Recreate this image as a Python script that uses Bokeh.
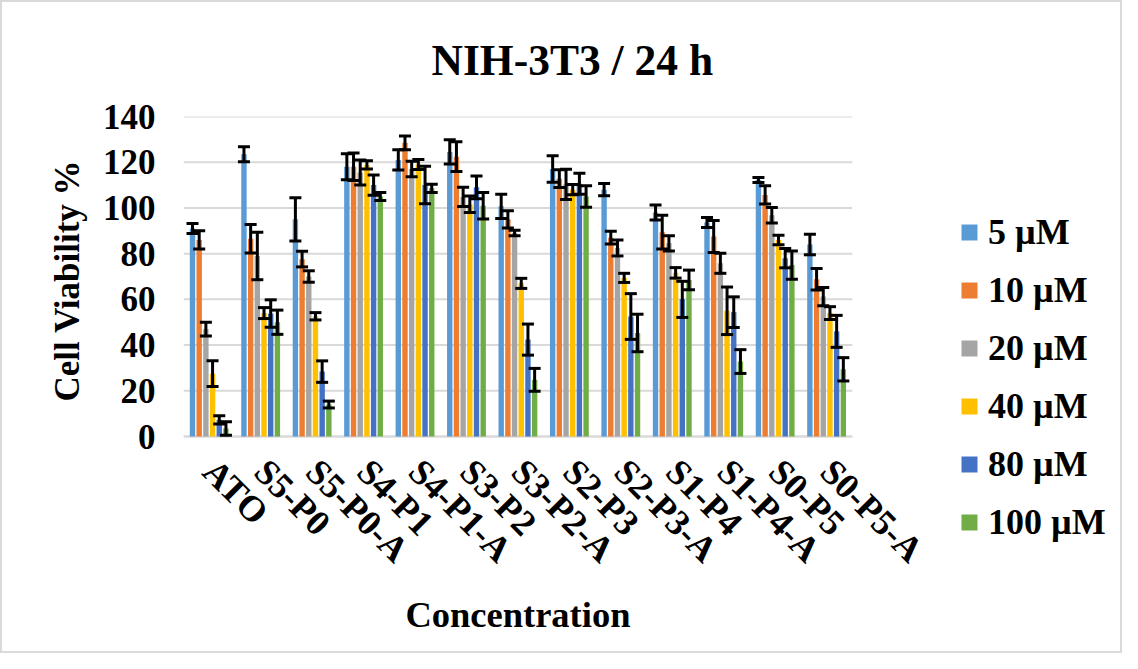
import math
from bokeh.plotting import figure
from bokeh.models import (Whisker, ColumnDataSource, Legend, LegendItem, TeeHead,
                          Range1d, FixedTicker, Title)
from bokeh.core.properties import value
from bokeh.transform import dodge
from bokeh.embed import file_html
from bokeh.resources import INLINE

categories = ["ATO", "S5-P0", "S5-P0-A", "S4-P1", "S4-P1-A", "S3-P2", "S3-P2-A",
              "S2-P3", "S2-P3-A", "S1-P4", "S1-P4-A", "S0-P5", "S0-P5-A"]
series = ["5 µM", "10 µM", "20 µM", "40 µM", "80 µM", "100 µM"]
colors = ["#5B9BD5", "#ED7D31", "#A5A5A5", "#FFC000", "#4472C4", "#70AD47"]
y_ticks = [0, 20, 40, 60, 80, 100, 120, 140]

v5 = [91, 123.5, 95, 118, 121, 124.5, 100.7, 117, 108, 98, 93.6, 112.2, 84]
e5 = [2.2, 3.3, 9.5, 5.7, 4.4, 5.3, 5.3, 5.8, 2.7, 3.3, 2.2, 1.1, 4.5]
v10 = [86, 86.5, 77.6, 118, 128.5, 122.4, 95, 112.8, 87, 89.4, 87.5, 105.7, 68.8]
e10 = [4, 6.2, 3.4, 6, 3, 6.5, 3.8, 3.9, 2.8, 7.4, 7, 4, 4.7]
v20 = [47, 79, 70, 115.5, 117, 104.8, 89, 110.3, 82.5, 84.5, 75.8, 96.8, 61.2]
e20 = [3, 10.4, 2.5, 5.5, 3.4, 4.2, 1.2, 6.6, 3.5, 3.3, 4.4, 3.4, 4]
v40 = [27.5, 54, 52.6, 118.8, 119, 101.6, 67, 108, 69.4, 71.6, 55, 86, 54]
e40 = [5.6, 2.4, 1.6, 1.8, 2.2, 3.6, 2.2, 2.2, 2, 2.3, 10.4, 2.1, 2.8]
v80 = [7.3, 53.8, 28.4, 110, 110, 109, 42.4, 110.6, 52.5, 60, 54.4, 78, 46]
e80 = [1.8, 6, 4.7, 4.4, 8.2, 5, 6.8, 4.6, 10, 7.9, 6.7, 4.2, 7]
v100 = [3.5, 50, 14, 105, 108.6, 101, 24.8, 105, 45.3, 68.5, 32.8, 75, 29.4]
e100 = [3, 5.3, 1.5, 1.7, 1.8, 5.8, 5, 4.7, 8.2, 4.3, 5.2, 6.2, 5.1]

values = [v5, v10, v20, v40, v80, v100]
errors = [e5, e10, e20, e40, e80, e100]

FONT = "Liberation Serif"
N = len(categories)

xpos = list(range(N))
data = {"cat": categories, "xc": xpos}
for k, (v, e) in enumerate(zip(values, errors)):
    data[f"v{k}"] = v
    data[f"up{k}"] = [a + b for a, b in zip(v, e)]
    data[f"lo{k}"] = [a - b for a, b in zip(v, e)]
src = ColumnDataSource(data)

# The plotting frame reaches the right and bottom edges so the legend and the
# rotated category labels are drawn inside it (nothing gets clipped).
p = figure(width=1122, height=653, x_range=Range1d(-0.5, 17.79),
           y_range=Range1d(-95.8, 140), output_backend="svg", toolbar_location=None,
           title="NIH-3T3 / 24 h",
           min_border_left=181, min_border_right=0, min_border_top=114,
           min_border_bottom=0)
p.styles = {"border": "2px solid #d9d9d9"}
p.outline_line_color = None
p.background_fill_color = "white"
p.border_fill_color = "white"

p.title.text_font = FONT
p.title.text_font_size = "43.5px"
p.title.text_font_style = "bold"
p.title.text_color = "black"
p.title.align = "left"
p.title.offset = 248
p.title.vertical_align = "top"
p.title.standoff = 62

# horizontal gridlines limited to the category band
grid_src = ColumnDataSource({"y": y_ticks})
p.segment(x0=-0.5, x1=N - 0.5, y0="y", y1="y", source=grid_src,
          line_color="#d9d9d9", line_width=2, level="underlay")
p.xgrid.grid_line_color = None
p.ygrid.grid_line_color = None

slot = 0.13
bw = 0.105
items = []
for k in range(6):
    off = (k - 2.5) * slot
    r = p.vbar(x=dodge("xc", off), top=f"v{k}", width=bw,
               source=src, fill_color=colors[k], line_color=None)
    items.append(LegendItem(label=series[k], renderers=[r]))
    w = Whisker(base=dodge("xc", off), upper=f"up{k}", lower=f"lo{k}",
                source=src, line_color="black", line_width=3, level="overlay",
                upper_head=TeeHead(size=12, line_width=3, line_color="black"),
                lower_head=TeeHead(size=12, line_width=3, line_color="black"))
    p.add_layout(w)

# y axis
p.yaxis.ticker = FixedTicker(ticks=y_ticks)
p.yaxis.axis_line_color = None
p.yaxis.major_tick_line_color = None
p.yaxis.minor_tick_line_color = None
p.yaxis.major_label_text_font = FONT
p.yaxis.major_label_text_font_size = "35px"
p.yaxis.major_label_text_font_style = "bold"
p.yaxis.major_label_text_color = "black"
p.yaxis.major_label_standoff = 22

ytitle = Title(text="Cell Viability %", align="left", offset=254, standoff=26,
               vertical_align="bottom", text_font=FONT, text_font_size="35px",
               text_font_style="bold", text_color="black")
p.add_layout(ytitle, "left")

# category axis drawn inside the frame
p.xaxis.visible = False
p.segment(x0=-0.5, x1=N - 0.5, y0=0, y1=0, line_color="#d9d9d9", line_width=2,
          level="underlay")
p.text(x="xc", y=0, text="cat", source=src, angle=-math.pi / 4,
       text_align="left", text_baseline="middle", y_offset=29,
       text_font=value(FONT), text_font_size=value("36px"),
       text_font_style=value("bold"), text_color="black")
p.text(x=[(N - 1) / 2], y=[0], text=["Concentration"], y_offset=178,
       text_align="center", text_baseline="middle",
       text_font=value(FONT), text_font_size=value("36.5px"),
       text_font_style=value("bold"), text_color="black")

legend = Legend(items=items, location=(776, 112), orientation="vertical",
                label_text_font=FONT, label_text_font_size="36px",
                label_text_font_style="bold", label_text_color="black",
                glyph_width=20, glyph_height=20, label_standoff=9,
                label_height=40, spacing=16, padding=0, margin=0,
                border_line_color=None, background_fill_alpha=0)
p.add_layout(legend)

open("out.html", "w").write(file_html(p, INLINE))
